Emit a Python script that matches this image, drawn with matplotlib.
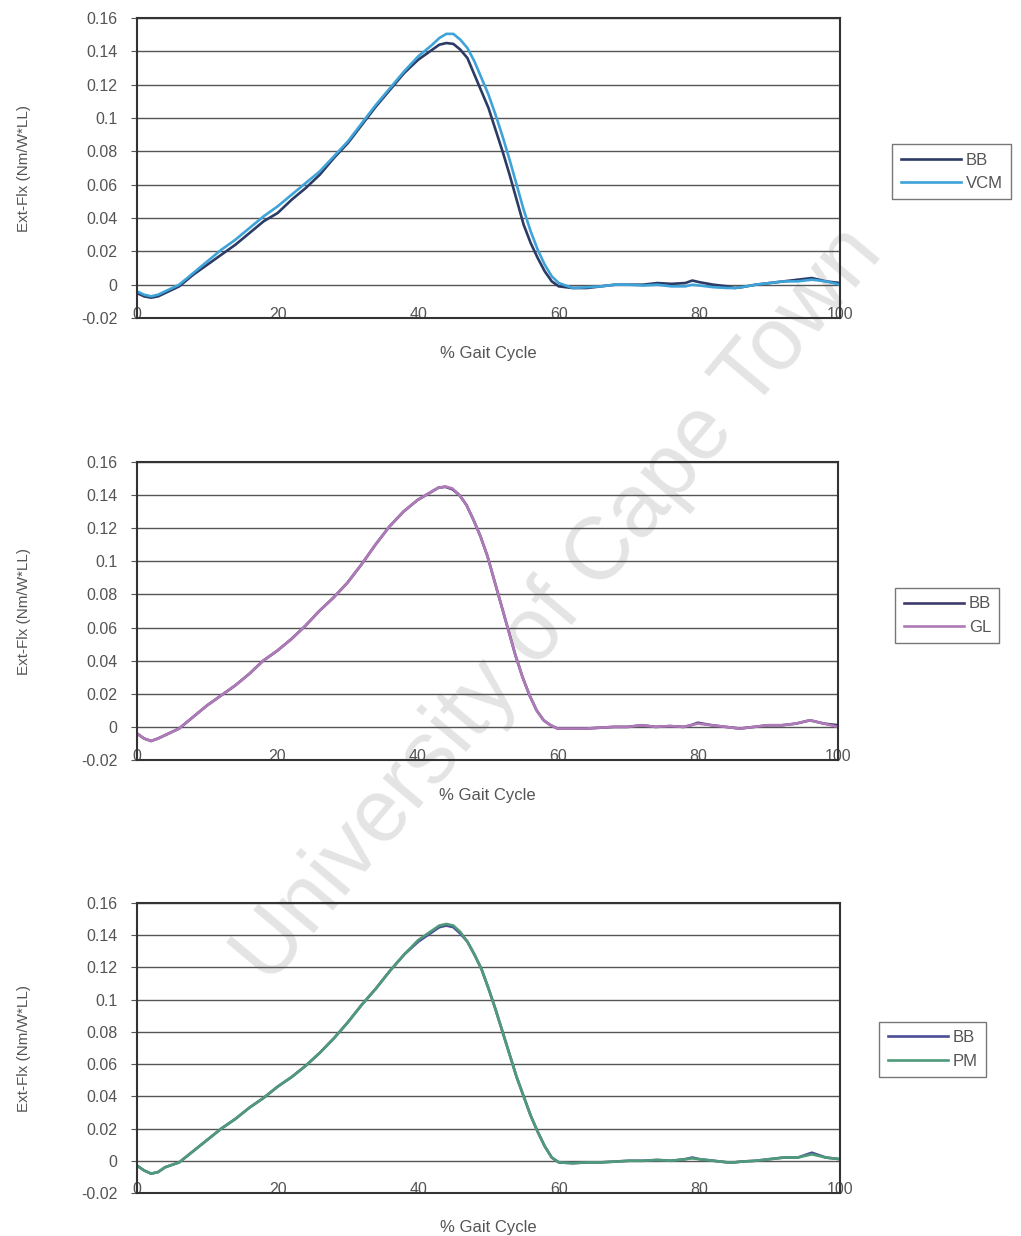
import matplotlib
matplotlib.use("Agg")
import matplotlib.pyplot as plt

plt.rcParams['font.family'] = ['Liberation Sans', 'DejaVu Sans']

# % gait cycle sample points (shared by all series)
gait = [0, 1, 2, 3, 4, 6, 8, 10, 12, 14, 16, 18, 20, 22, 24, 26, 28, 30, 32, 34, 36, 38,
        40, 42, 43, 44, 45, 46, 47, 48, 49, 50, 51, 52, 53, 54, 55, 56, 57, 58, 59, 60,
        62, 64, 66, 68, 70, 72, 74, 76, 78, 79, 80, 82, 84, 85, 86, 88, 90, 92, 94, 96, 98, 100]

# panel 1
bb_1 = [-0.005, -0.007, -0.0078, -0.007, -0.005, -0.001, 0.006, 0.012, 0.018, 0.024, 0.031, 0.038,
        0.043, 0.051, 0.058, 0.066, 0.076, 0.085, 0.096, 0.107, 0.117, 0.127,
        0.135, 0.141, 0.144, 0.145, 0.1445, 0.141, 0.136, 0.126, 0.116, 0.106, 0.093, 0.080, 0.066,
        0.051, 0.036, 0.025, 0.016, 0.008, 0.002, -0.001,
        -0.002, -0.002, -0.001, 0.0, 0.0, 0.0, 0.001, 0.0005, 0.001, 0.0025, 0.0015, 0.0, -0.001,
        -0.002, -0.0015, 0.0, 0.001, 0.002, 0.003, 0.004, 0.002, 0.001]
vcm = [-0.004, -0.006, -0.007, -0.006, -0.004, 0.0, 0.007, 0.014, 0.021, 0.027, 0.034, 0.041,
       0.047, 0.054, 0.061, 0.068, 0.077, 0.086, 0.097, 0.108, 0.118, 0.128,
       0.137, 0.144, 0.148, 0.1505, 0.1505, 0.147, 0.142, 0.134, 0.124, 0.114, 0.102, 0.089, 0.075,
       0.060, 0.045, 0.032, 0.021, 0.012, 0.005, 0.001,
       -0.002, -0.0015, -0.001, 0.0, 0.0, -0.0005, 0.0, -0.001, -0.001, 0.0, -0.0005, -0.0015, -0.002,
       -0.002, -0.0015, 0.0, 0.001, 0.002, 0.002, 0.003, 0.002, 0.0]

# panel 2
bb_2 = [-0.004, -0.007, -0.0085, -0.007, -0.005, -0.001, 0.006, 0.013, 0.019, 0.025, 0.032, 0.040,
        0.046, 0.053, 0.061, 0.070, 0.078, 0.087, 0.098, 0.110, 0.121, 0.130,
        0.137, 0.142, 0.1445, 0.145, 0.1435, 0.140, 0.134, 0.125, 0.115, 0.103, 0.088, 0.073, 0.058,
        0.043, 0.030, 0.019, 0.010, 0.004, 0.001, -0.001,
        -0.001, -0.001, -0.0005, 0.0, 0.0, 0.001, 0.0, 0.0005, 0.0, 0.001, 0.0025, 0.001, 0.0,
        -0.0005, -0.001, 0.0, 0.001, 0.001, 0.002, 0.004, 0.002, 0.001]
gl = [-0.004, -0.007, -0.0085, -0.007, -0.005, -0.001, 0.006, 0.013, 0.019, 0.025, 0.032, 0.040,
      0.046, 0.053, 0.061, 0.070, 0.078, 0.087, 0.098, 0.110, 0.121, 0.130,
      0.137, 0.142, 0.1445, 0.1452, 0.144, 0.140, 0.134, 0.125, 0.115, 0.103, 0.088, 0.073, 0.058,
      0.043, 0.030, 0.019, 0.010, 0.004, 0.001, -0.001,
      -0.001, -0.001, -0.0005, 0.0, 0.0, 0.001, 0.0, 0.0005, 0.0, 0.001, 0.002, 0.001, 0.0,
      -0.0005, -0.001, 0.0, 0.001, 0.001, 0.002, 0.004, 0.002, 0.0]

# panel 3
bb_3 = [-0.003, -0.006, -0.008, -0.007, -0.004, -0.001, 0.006, 0.013, 0.020, 0.026, 0.033, 0.039,
        0.046, 0.052, 0.059, 0.067, 0.076, 0.086, 0.097, 0.107, 0.118, 0.128,
        0.136, 0.142, 0.145, 0.146, 0.145, 0.141, 0.136, 0.128, 0.119, 0.107, 0.094, 0.080, 0.066,
        0.052, 0.040, 0.028, 0.018, 0.009, 0.002, -0.001,
        -0.0015, -0.001, -0.001, -0.0005, 0.0, 0.0, 0.0005, 0.0, 0.001, 0.002, 0.001, 0.0, -0.001,
        -0.001, -0.0005, 0.0, 0.001, 0.002, 0.002, 0.005, 0.002, 0.001]
pm = [-0.003, -0.006, -0.008, -0.007, -0.004, -0.001, 0.006, 0.013, 0.020, 0.026, 0.033, 0.039,
      0.046, 0.052, 0.059, 0.067, 0.076, 0.086, 0.097, 0.107, 0.118, 0.128,
      0.137, 0.143, 0.146, 0.147, 0.146, 0.142, 0.136, 0.128, 0.119, 0.107, 0.094, 0.080, 0.066,
      0.052, 0.040, 0.028, 0.018, 0.009, 0.002, -0.001,
      -0.0015, -0.001, -0.001, -0.0005, 0.0, 0.0, 0.0005, 0.0, 0.001, 0.0015, 0.001, 0.0, -0.001,
      -0.001, -0.0005, 0.0, 0.001, 0.002, 0.002, 0.004, 0.002, 0.001]

y_ticks = [-0.02, 0, 0.02, 0.04, 0.06, 0.08, 0.1, 0.12, 0.14, 0.16]
y_ticklabels = ["-0.02", "0", "0.02", "0.04", "0.06", "0.08", "0.1", "0.12", "0.14", "0.16"]
x_ticks = [0, 20, 40, 60, 80, 100]
x_ticklabels = ["0", "20", "40", "60", "80", "100"]

panels = [
    # (axes rect, series list, legend anchor)
    ([0.1342, 0.7427, 0.6885, 0.2427],
     [("BB", bb_1, "#2b3b66"), ("VCM", vcm, "#3ea3d8")], (0.8658, 0.890)),
    ([0.1342, 0.3851, 0.6866, 0.2411],
     [("BB", bb_2, "#3e3a6e"), ("GL", gl, "#b07ab8")], (0.8688, 0.531)),
    ([0.1342, 0.0348, 0.6885, 0.2346],
     [("BB", bb_3, "#4a4e98"), ("PM", pm, "#4f9a7a")], (0.8531, 0.180)),
]

fig = plt.figure(figsize=(10.21, 12.36), dpi=100)

# scanned watermark, behind the charts
fig.text(0.548, 0.51, "University of Cape Town", fontsize=64, color="#e4e4e4",
         rotation=50, ha="center", va="center", zorder=-5)

text_col = "#555555"
for rect, series, anchor in panels:
    ax = fig.add_axes(rect, zorder=2)
    ax.set_facecolor("none")
    for name, vals, col in series:
        ax.plot(gait, vals, color=col, lw=1.9, label=name)
    ax.set_xlim(0, 100)
    ax.set_ylim(-0.02, 0.16)
    ax.set_yticks(y_ticks)
    ax.set_yticklabels(y_ticklabels)
    ax.set_xticks(x_ticks)
    ax.set_xticklabels(x_ticklabels)
    ax.yaxis.grid(True, color="#555555", lw=1.0)
    ax.set_axisbelow(True)
    for s in ax.spines.values():
        s.set_color("#333333")
        s.set_linewidth(1.5)
    ax.tick_params(axis="y", length=4, direction="out", color="#555555",
                   labelsize=11.5, labelcolor=text_col, pad=10)
    ax.tick_params(axis="x", length=0, labelsize=11.5, labelcolor=text_col, pad=-8)
    ax.set_xlabel("% Gait Cycle", fontsize=12, color=text_col, labelpad=17)
    ax.set_ylabel("Ext-Flx (Nm/W*LL)", fontsize=11, color=text_col, labelpad=36)
    fig.legend(*ax.get_legend_handles_labels(), loc="upper left", bbox_to_anchor=anchor,
               frameon=True, fancybox=False, edgecolor="#777777", fontsize=12,
               labelcolor=text_col, handlelength=3.6, handletextpad=0.3,
               borderpad=0.5, labelspacing=0.5, framealpha=1)

fig.savefig("out.png", dpi=100)
